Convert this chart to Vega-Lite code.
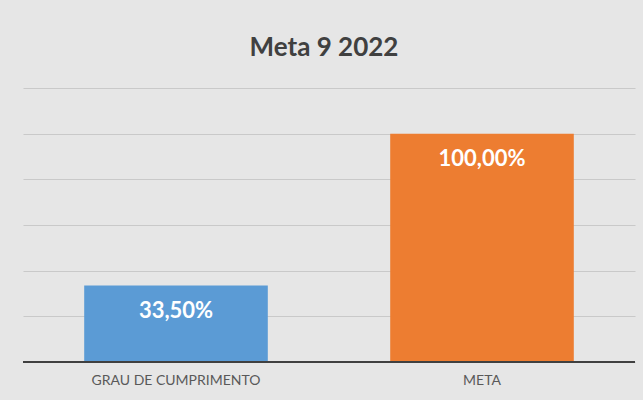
{
  "$schema": "https://vega.github.io/schema/vega-lite/v6.json",
  "width": 612,
  "height": 274,
  "autosize": {"type": "none"},
  "padding": {"left": 23, "top": 88, "right": 8, "bottom": 38},
  "background": "#e6e6e6",
  "title": {
    "text": "Meta 9 2022",
    "font": "Lato",
    "fontSize": 26,
    "fontWeight": "bold",
    "color": "#404040",
    "anchor": "middle",
    "baseline": "alphabetic",
    "offset": 6,
    "dx": -5
  },
  "config": {
    "view": {"stroke": null},
    "font": "Lato"
  },
  "data": {
    "values": [
      {"categoria": "GRAU DE CUMPRIMENTO", "valor": 0.335, "rotulo": "33,50%"},
      {"categoria": "META", "valor": 1.0, "rotulo": "100,00%"}
    ]
  },
  "layer": [
    {
      "mark": {"type": "bar"},
      "encoding": {
        "x": {
          "field": "categoria",
          "type": "nominal",
          "sort": null,
          "scale": {"paddingInner": 0.4, "paddingOuter": 0.2},
          "axis": {
            "title": null,
            "labelAngle": 0,
            "ticks": false,
            "domain": false,
            "labelPadding": 11,
            "labelFontSize": 14,
            "labelColor": "#595959",
            "labelFont": "Lato"
          }
        },
        "y": {
          "field": "valor",
          "type": "quantitative",
          "scale": {"domain": [0, 1.2], "nice": false},
          "axis": {
            "title": null,
            "labels": false,
            "ticks": false,
            "domain": false,
            "values": [0, 0.2, 0.4, 0.6, 0.8, 1.0, 1.2],
            "gridColor": "#c9c9c9",
            "gridWidth": 1
          }
        },
        "color": {
          "field": "categoria",
          "type": "nominal",
          "scale": {"domain": ["GRAU DE CUMPRIMENTO", "META"], "range": ["#5B9BD5", "#ED7D31"]},
          "legend": null
        }
      }
    },
    {
      "mark": {"type": "text", "color": "white", "fontSize": 22, "fontWeight": "bold", "font": "Lato", "baseline": "alphabetic", "dy": 32},
      "encoding": {
        "x": {"field": "categoria", "type": "nominal", "sort": null},
        "y": {"field": "valor", "type": "quantitative"},
        "text": {"field": "rotulo"}
      }
    },
    {
      "mark": {"type": "rule", "color": "#404040", "strokeWidth": 2},
      "encoding": {"y": {"datum": 0}}
    }
  ]
}
